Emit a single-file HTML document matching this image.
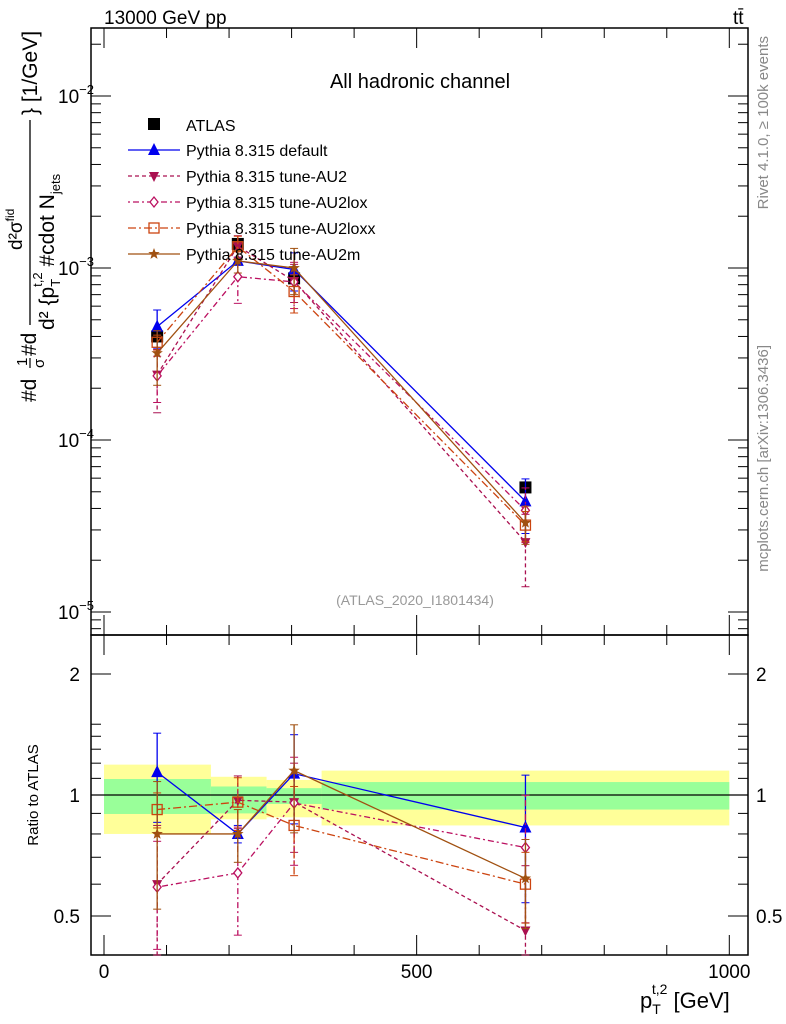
<!DOCTYPE html>
<html><head><meta charset="utf-8"><style>
html,body{margin:0;padding:0;background:#fff;}
svg{display:block;font-family:"Liberation Sans",sans-serif;}
</style></head><body>
<svg id="c" width="786" height="1024" viewBox="0 0 786 1024"></svg>
<script>
const xVals=[85,214,304,674];
const atlas=[4.0e-4,1.38e-3,8.7e-4,5.3e-5];
const atlasErr=[0.05,0.05,0.06,0.08];
const seriesNames=["Pythia 8.315 default","Pythia 8.315 tune-AU2","Pythia 8.315 tune-AU2lox","Pythia 8.315 tune-AU2loxx","Pythia 8.315 tune-AU2m"];
const mainDefault=[4.56e-4,1.10e-3,9.8e-4,4.4e-5];
const mainAU2=[2.4e-4,1.34e-3,8.4e-4,2.55e-5];
const mainLox=[2.36e-4,8.9e-4,8.3e-4,3.9e-5];
const mainLoxx=[3.7e-4,1.33e-3,7.3e-4,3.2e-5];
const mainAU2m=[3.2e-4,1.10e-3,1.0e-3,3.3e-5];
const ratioDefault=[1.14,0.80,1.13,0.83];
const ratioAU2=[0.60,0.97,0.96,0.46];
const ratioLox=[0.59,0.64,0.955,0.74];
const ratioLoxx=[0.92,0.96,0.84,0.60];
const ratioAU2m=[0.80,0.80,1.15,0.62];
const errDefault=[0.25,0.05,0.25,0.35];
const errAU2=[0.40,0.15,0.25,0.45];
const errLox=[0.30,0.30,0.30,0.35];
const errLoxx=[0.10,0.15,0.25,0.20];
const errAU2m=[0.35,0.15,0.30,0.25];
const bandEdges=[0,171,260,348,1000];
const bandYelLo=[0.80,0.87,0.88,0.84];
const bandYelHi=[1.19,1.11,1.09,1.15];
const bandGrnLo=[0.897,0.90,0.95,0.92];
const bandGrnHi=[1.096,1.05,1.04,1.077];
const mainTicks=[-2,-3,-4,-5];
const ratioTicks=[2,1,0.5];
const xTicks=[0,500,1000];

const NS="http://www.w3.org/2000/svg";
const svg=document.getElementById('c');
const L=91,R=748,T=28,MB=635,RB=955;
const xs=v=>104+v*0.6253;
const ym=v=>268-(Math.log10(v)+3)*172;
const yr=v=>795-Math.log2(v)*121;
function el(t,a,p){const e=document.createElementNS(NS,t);for(const k in a)e.setAttribute(k,a[k]);(p||svg).appendChild(e);return e;}
function tx(s,x,y,o,p){const e=el('text',Object.assign({x:x,y:y},o||{}),p);e.textContent=s;return e;}

const gb=el('g',{});


for(let i=0;i<4;i++){
  const x0=xs(bandEdges[i]),x1=xs(bandEdges[i+1]);
  el('rect',{x:x0,y:yr(bandYelHi[i]),width:x1-x0,height:yr(bandYelLo[i])-yr(bandYelHi[i]),fill:'#ffff99'},gb);
  el('rect',{x:x0,y:yr(bandGrnHi[i]),width:x1-x0,height:yr(bandGrnLo[i])-yr(bandGrnHi[i]),fill:'#99ff99'},gb);
}
el('line',{x1:L,x2:R,y1:yr(1),y2:yr(1),stroke:'#000','stroke-width':1.2});

const f1=el('rect',{x:L,y:T,width:R-L,height:MB-T,fill:'none',stroke:'#000','stroke-width':1.5});


const f2=el('rect',{x:L,y:MB,width:R-L,height:RB-MB,fill:'none',stroke:'#000','stroke-width':1.5});



for(let d=-6;d<=-1;d++){for(let m=1;m<10;m++){const v=m*Math.pow(10,d);const y=ym(v);if(y<T||y>MB)continue;const len=m==1?20:10;
el('line',{x1:L,x2:L+len,y1:y,y2:y,stroke:'#000'});el('line',{x1:R,x2:R-len,y1:y,y2:y,stroke:'#000'});}}
mainTicks.forEach(d=>{const g=tx('10',58,ym(Math.pow(10,d))+7,{'font-size':19});const s=el('tspan',{dy:-9,'font-size':13},g);s.textContent='−'+(-d);
});
[0.5,0.6,0.7,0.8,0.9,1,1.1,1.2,1.3,1.4,1.5,2].forEach(v=>{const y=yr(v);const len=(v==0.5||v==1||v==2)?20:10;
el('line',{x1:L,x2:L+len,y1:y,y2:y,stroke:'#000'});el('line',{x1:R,x2:R-len,y1:y,y2:y,stroke:'#000'});});
ratioTicks.forEach(v=>{const a=tx(String(v),80,yr(v)+7,{'font-size':19,'text-anchor':'end'});
const b=tx(String(v),756,yr(v)+7,{'font-size':19});});
for(let v=0;v<=1000;v+=100){const x=xs(v);const len=v%500==0?20:10;
el('line',{x1:x,x2:x,y1:RB,y2:RB-len,stroke:'#000'});el('line',{x1:x,x2:x,y1:MB,y2:MB+len,stroke:'#000'});el('line',{x1:x,x2:x,y1:T,y2:T+len,stroke:'#000'});el('line',{x1:x,x2:x,y1:MB,y2:MB-len,stroke:'#000'});}
xTicks.forEach(v=>{const t=tx(String(v),xs(v),978,{'font-size':19,'text-anchor':'middle'});});

function marker(type,x,y,col,g){
  if(type=='sq')el('rect',{x:x-6,y:y-6,width:12,height:12,fill:'#000'},g);
  else if(type=='tri')el('polygon',{points:`${x},${y-7} ${x-6},${y+5} ${x+6},${y+5}`,fill:col},g);
  else if(type=='tridn')el('polygon',{points:`${x},${y+6} ${x-5},${y-4} ${x+5},${y-4}`,fill:col},g);
  else if(type=='dia')el('polygon',{points:`${x},${y-5} ${x+4},${y} ${x},${y+5} ${x-4},${y}`,fill:'#fff',stroke:col,'stroke-width':1.3},g);
  else if(type=='osq')el('rect',{x:x-5,y:y-5,width:10,height:10,fill:'none',stroke:col,'stroke-width':1.3},g);
  else if(type=='star'){let p=[];for(let k=0;k<10;k++){const r=k%2?2.5:6,a=-Math.PI/2+k*Math.PI/5;p.push((x+r*Math.cos(a))+','+(y+r*Math.sin(a)));}el('polygon',{points:p.join(' '),fill:col},g);}
}
const styles=[
 {col:'#0000ee',dash:'',m:'tri',name:'pythia-default'},
 {col:'#aa1050',dash:'4,3',m:'tridn',name:'pythia-au2'},
 {col:'#bb1060',dash:'2,3,6,3',m:'dia',name:'pythia-au2lox'},
 {col:'#cc4410',dash:'8,3,2,3',m:'osq',name:'pythia-au2loxx'},
 {col:'#a05010',dash:'',m:'star',name:'pythia-au2m'}];
const mains=[mainDefault,mainAU2,mainLox,mainLoxx,mainAU2m];
const ratios=[ratioDefault,ratioAU2,ratioLox,ratioLoxx,ratioAU2m];
const errs=[errDefault,errAU2,errLox,errLoxx,errAU2m];

const ga=el('g',{});


for(let i=0;i<4;i++){const x=xs(xVals[i]);
el('line',{x1:x,x2:x,y1:ym(atlas[i]*(1+atlasErr[i])),y2:ym(atlas[i]*(1-atlasErr[i])),stroke:'#000'},ga);
marker('sq',x,ym(atlas[i]),'#000',ga);}

styles.forEach((s,k)=>{
 [[mains[k],ym,'main'],[ratios[k],yr,'ratio']].forEach(([vals,yf,pfx])=>{
  const g=el('g',{});
  
  
  const pts=vals.map((v,i)=>xs(xVals[i])+','+yf(v)).join(' ');
  el('polyline',{points:pts,fill:'none',stroke:s.col,'stroke-width':1.3,'stroke-dasharray':s.dash},g);
  vals.forEach((v,i)=>{const x=xs(xVals[i]);const e=errs[k][i];
   let y1=yf(v*(1+e)),y2=yf(v*(1-e));if(pfx=='ratio'){y1=Math.max(y1,MB);y2=Math.min(y2,RB);}
   el('line',{x1:x,x2:x,y1:y1,y2:y2,stroke:s.col,'stroke-width':1.3,'stroke-dasharray':s.dash},g);
   el('line',{x1:x-4,x2:x+4,y1:y1,y2:y1,stroke:s.col},g);el('line',{x1:x-4,x2:x+4,y1:y2,y2:y2,stroke:s.col},g);
   marker(s.m,x,yf(v),s.col,g);});
 });
});

const lg=el('g',{});


marker('sq',154,124,'#000',lg);
const at=tx('ATLAS',186,131,{'font-size':16},lg);

styles.forEach((s,k)=>{const y=150+26*k;
 el('line',{x1:128,x2:180,y1:y,y2:y,stroke:s.col,'stroke-width':1.3,'stroke-dasharray':s.dash},lg);
 marker(s.m,154,y,s.col,lg);
 const t=tx(seriesNames[k],186,y+6,{'font-size':16},lg);
 });

let t;
t=tx('13000 GeV pp',104,24,{'font-size':19});
t=tx('tt̄',733,24,{'font-size':19});
t=tx('All hadronic channel',420,88,{'font-size':20,'text-anchor':'middle'});
t=tx('(ATLAS_2020_I1801434)',415,605,{'font-size':14,'text-anchor':'middle',fill:'#999'});
t=tx('Rivet 4.1.0, ≥ 100k events',0,0,{'font-size':15,fill:'#888','text-anchor':'end',transform:'translate(768,36) rotate(-90)'});
t=tx('mcplots.cern.ch [arXiv:1306.3436]',0,0,{'font-size':15,fill:'#888','text-anchor':'end',transform:'translate(768,345) rotate(-90)'});

const yt=el('g',{transform:'rotate(-90)'});


tx('#d',-402,36,{'font-size':21},yt);
tx('1',-366,27,{'font-size':15},yt);
el('line',{x1:-368,x2:-358,y1:30,y2:30,stroke:'#000','stroke-width':1.2},yt);
tx('σ',-368,44,{'font-size':15},yt);
tx('#d',-356,36,{'font-size':21},yt);
el('line',{x1:-325,x2:-120,y1:30,y2:30,stroke:'#000','stroke-width':1.3},yt);
const nm=tx('d²σ',-250,22,{'font-size':19},yt);const nf=el('tspan',{dy:-8,'font-size':12},nm);nf.textContent='fid';
const dn=tx('d² {p',-330,54,{'font-size':21},yt);
const d1=el('tspan',{dy:6,'font-size':13},dn);d1.textContent='T';
const d2=el('tspan',{dx:-8,dy:-18,'font-size':13},dn);d2.textContent='t,2';
const d3=el('tspan',{dy:12,'font-size':21},dn);d3.textContent=' #cdot N';
const d4=el('tspan',{dy:6,'font-size':13},dn);d4.textContent='jets';
tx('} [1/GeV]',-115,37,{'font-size':21},yt);

t=tx('Ratio to ATLAS',0,0,{'font-size':15,'text-anchor':'middle',transform:'translate(38,795) rotate(-90)'});
t=tx('p',640,1008,{'font-size':22});const a1=el('tspan',{dy:6,'font-size':14},t);a1.textContent='T';const a2=el('tspan',{dx:-9,dy:-20,'font-size':14},t);a2.textContent='t,2';const a3=el('tspan',{dy:14,'font-size':22},t);a3.textContent=' [GeV]';

</script>
</body></html>
